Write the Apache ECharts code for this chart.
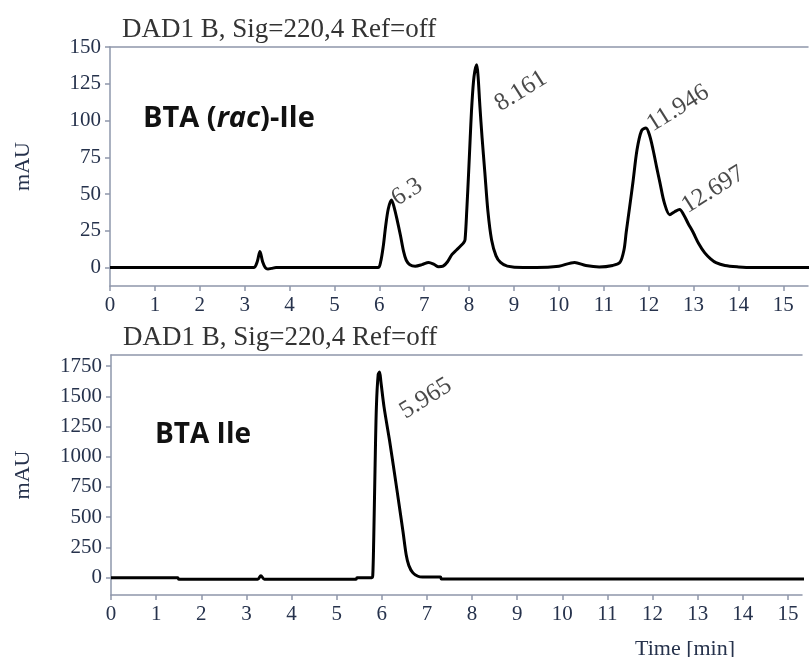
<!DOCTYPE html>
<html>
<head>
<meta charset="utf-8">
<script src="https://cdn.jsdelivr.net/npm/echarts@6/dist/echarts.min.js"></script>
<style>
  html, body { margin: 0; padding: 0; background: #fff; }
  #chart { width: 809px; height: 657px; }
</style>
</head>
<body>
<div id="chart"></div>
<script>
  // BTA (rac)-Ile trace
  const racTime = [0, 3.2, 3.28, 3.34, 3.4, 3.46, 3.52, 3.6, 3.7, 5.97, 6.03, 6.09, 6.14, 6.2, 6.27, 6.33, 6.4, 6.47,
    6.54, 6.6, 6.68, 6.8, 6.95, 7.1, 7.22, 7.32, 7.42, 7.52, 7.62, 7.72, 7.82, 7.88, 7.91, 7.95, 7.99, 8.02, 8.06,
    8.11, 8.17, 8.2, 8.24, 8.29, 8.35, 8.42, 8.5, 8.6, 8.7, 8.85, 9.2, 9.5, 10.0, 10.35, 10.6, 10.9, 11.2, 11.36,
    11.45, 11.5, 11.58, 11.65, 11.74, 11.84, 11.94, 12.02, 12.1, 12.18, 12.25, 12.35, 12.47, 12.58, 12.69, 12.78,
    12.88, 12.99, 13.12, 13.25, 13.38, 13.5, 13.7, 14.0, 14.3, 15.6]
  const racSignal = [0, 0, 4, 11, 4, 0, -1, -0.5, 0, 0, 4, 15, 28, 40, 46, 41, 32, 22,
    11, 5, 2, 1, 2, 3.5, 2.2, 0.6, 1, 4, 9, 12, 15, 17, 19, 40, 65, 85, 110,
    130, 138, 130, 110, 88, 65, 38, 19, 8, 3.5, 1, 0, 0, 1, 3.5, 1.5, 0.5, 1.5, 3.5,
    12, 24, 42, 58, 80, 93, 95, 90, 80, 68, 58, 44, 36, 38, 39.5, 36,
    30, 24, 16, 10, 6, 3.4, 1.5, 0.5, 0, 0]
  const racPeakTime = [6.27, 8.17, 11.94, 12.69]
  const racPeakSignal = [46, 138, 95, 39.5]
  const racPeakNames = ['6.3', '8.161', '11.946', '12.697']

  // BTA Ile trace
  const ileTime = [0, 1.48, 1.5, 3.25, 3.32, 3.4, 5.43, 5.45, 5.78, 5.8, 5.82, 5.85, 5.88, 5.92, 5.95, 5.98, 6.05,
    6.17, 6.28, 6.39, 6.47, 6.54, 6.6, 6.69, 6.8, 6.9, 7.3, 7.32, 15.4]
  const ileSignal = [0, 0, -13, -13, 16, -13, -13, 0, 0, 20, 300, 900, 1410, 1680, 1700, 1620, 1410,
    1138, 865, 587, 380, 190, 100, 40, 12, 5, 5, -10, -10]
  const ilePeakTime = [5.95]
  const ilePeakSignal = [1700]
  const ilePeakNames = ['5.965']

  const timeTicks = [0, 1, 2, 3, 4, 5, 6, 7, 8, 9, 10, 11, 12, 13, 14, 15]
  const racTicks = [0, 25, 50, 75, 100, 125, 150]
  const ileTicks = [0, 250, 500, 750, 1000, 1250, 1500, 1750]

  const serif = 'Liberation Serif'
  const axisCol = '#8e97ab'
  const tickTextCol = '#26324c'
  const labelAngle = 32

  function pairs(xs, ys) {
    return xs.map((x, i) => [x, ys[i]])
  }

  // label offsets are applied in the rotated frame, so turn a screen shift into that frame
  function unrotate(d) {
    const a = labelAngle * Math.PI / 180
    return [d[0] * Math.cos(a) - d[1] * Math.sin(a), d[0] * Math.sin(a) + d[1] * Math.cos(a)]
  }

  function timeAxis(grid, max) {
    return {
      type: 'value', gridIndex: grid, min: 0, max: max,
      axisLine: { show: true, onZero: false, lineStyle: { color: axisCol, width: 1.5 } },
      axisTick: { show: true, length: 5, customValues: timeTicks, lineStyle: { color: axisCol, width: 1.5 } },
      axisLabel: { customValues: timeTicks, margin: 9, color: tickTextCol, fontFamily: serif, fontSize: 21 },
      splitLine: { show: false }
    }
  }

  function frameAxis(grid) {
    // just the top border line of the plot
    return {
      type: 'value', gridIndex: grid, position: 'top', min: 0, max: 1,
      axisLine: { show: true, onZero: false, lineStyle: { color: axisCol, width: 1.5 } },
      axisTick: { show: false }, axisLabel: { show: false }, splitLine: { show: false }
    }
  }

  function signalAxis(grid, min, max, ticks, gap) {
    return {
      type: 'value', gridIndex: grid, min: min, max: max,
      name: 'mAU', nameLocation: 'middle', nameRotate: 90, nameGap: gap,
      nameTextStyle: { color: tickTextCol, fontFamily: serif, fontSize: 22 },
      axisLine: { show: true, onZero: false, lineStyle: { color: axisCol, width: 1.5 } },
      axisTick: { show: true, length: 5, customValues: ticks, lineStyle: { color: axisCol, width: 1.5 } },
      axisLabel: { customValues: ticks, margin: 9, color: tickTextCol, fontFamily: serif, fontSize: 21,
        formatter: v => String(v) },
      splitLine: { show: false }
    }
  }

  function trace(xIdx, yIdx, xs, ys) {
    return {
      type: 'line', xAxisIndex: xIdx, yAxisIndex: yIdx,
      data: pairs(xs, ys),
      smooth: 0.3, showSymbol: false,
      lineStyle: { color: '#000', width: 3 },
      silent: true
    }
  }

  function peakLabels(xIdx, yIdx, xs, ys, names, shifts) {
    return {
      type: 'scatter', xAxisIndex: xIdx, yAxisIndex: yIdx,
      symbolSize: 1, itemStyle: { color: 'rgba(0,0,0,0)' },
      data: xs.map((x, i) => ({ value: [x, ys[i]], name: names[i], label: { offset: unrotate(shifts[i]) } })),
      label: {
        show: true, position: 'inside', formatter: '{b}',
        align: 'left', verticalAlign: 'bottom', rotate: labelAngle,
        color: '#1a1a1a', fontFamily: serif, fontSize: 25
      },
      silent: true
    }
  }

  const chart = echarts.init(document.getElementById('chart'))
  chart.setOption({
    animation: false,
    backgroundColor: '#ffffff',
    title: [
      { text: 'DAD1 B, Sig=220,4 Ref=off', left: 122, top: 16, padding: 0,
        textStyle: { color: '#333', fontFamily: serif, fontWeight: 'normal', fontSize: 27 } },
      { text: 'DAD1 B, Sig=220,4 Ref=off', left: 123, top: 324, padding: 0,
        textStyle: { color: '#333', fontFamily: serif, fontWeight: 'normal', fontSize: 27 } },
      { text: 'BTA ({i|rac})-Ile', left: 143, top: 104, padding: 0,
        textStyle: { color: '#111', fontFamily: 'Open Sans', fontWeight: 'bold', fontSize: 29,
          rich: { i: { fontFamily: 'Open Sans', fontStyle: 'italic', fontWeight: 'bold', fontSize: 29, color: '#111' } } } },
      { text: 'BTA Ile', left: 155, top: 421, padding: 0,
        textStyle: { color: '#111', fontFamily: 'Open Sans', fontWeight: 'bold', fontSize: 28 } },
      { text: 'Time [min]', left: 635, top: 638, padding: 0,
        textStyle: { color: tickTextCol, fontFamily: serif, fontWeight: 'normal', fontSize: 22 } }
    ],
    grid: [
      { left: 110, top: 47, right: 1, height: 239 },
      { left: 111, top: 355, right: 7, height: 240 }
    ],
    xAxis: [timeAxis(0, 15.55), timeAxis(1, 15.31), frameAxis(0), frameAxis(1)],
    yAxis: [signalAxis(0, -12.5, 150, racTicks, 76), signalAxis(1, -143, 1841, ileTicks, 77)],
    series: [
      trace(0, 0, racTime, racSignal),
      trace(1, 1, ileTime, ileSignal),
      peakLabels(0, 0, racPeakTime, racPeakSignal, racPeakNames, [[9, 11], [27, 52], [10, 9], [11, 9]]),
      peakLabels(1, 1, ilePeakTime, ilePeakSignal, ilePeakNames, [[29, 52]])
    ]
  })
</script>
</body>
</html>
